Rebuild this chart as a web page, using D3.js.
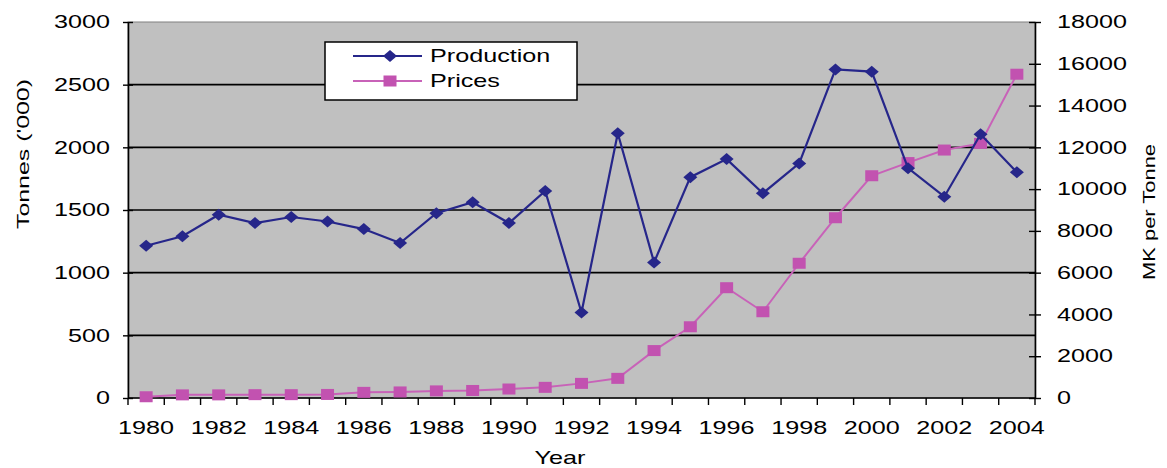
<!DOCTYPE html>
<html>
<head>
<meta charset="utf-8">
<script src="https://cdn.jsdelivr.net/npm/d3@7"></script>
<style>
  body { margin: 0; background: #fff; }
  svg text { font-family: Arial, "Liberation Sans", sans-serif; fill: #000; }
</style>
</head>
<body>
<div id="chart"></div>
<script>
const years = d3.range(1980, 2005);
const production = [1215, 1290, 1462, 1396, 1444, 1408, 1348, 1236, 1474, 1562, 1396, 1652,
  682, 2112, 1082, 1762, 1906, 1634, 1872, 2622, 2604, 1834, 1606, 2104, 1802];
const prices = [60, 150, 150, 160, 160, 170, 270, 290, 340, 360, 430, 510,
  700, 940, 2270, 3410, 5280, 4130, 6450, 8630, 10640, 11270, 11870, 12190, 15500];
const leftTicks = [0, 500, 1000, 1500, 2000, 2500, 3000];
const rightTicks = d3.range(0, 18001, 2000);
const xLabels = years.filter((y) => y % 2 === 0);

const width = 1167;
const height = 468;
const margin = { top: 22, right: 132, bottom: 70, left: 128 };
const stretch = 1.4; // the reference text is drawn wide

const svg = d3.select("#chart").append("svg")
  .attr("width", width)
  .attr("height", height);

const x = d3.scaleBand()
  .domain(years)
  .range([margin.left, width - margin.right]);

const yL = d3.scaleLinear().domain([0, 3000]).range([height - margin.bottom, margin.top]);
const yR = d3.scaleLinear().domain([0, 18000]).range([height - margin.bottom, margin.top]);

const x0 = margin.left;
const x1 = width - margin.right;
const yBottom = height - margin.bottom;

// plot area
svg.append("rect")
  .attr("x", x0).attr("y", margin.top)
  .attr("width", x1 - x0).attr("height", yBottom - margin.top)
  .attr("fill", "#c0c0c0")
  .attr("stroke", "#808080").attr("stroke-width", 1);

// gridlines
svg.append("g").selectAll("line")
  .data(leftTicks.filter((d) => d > 0 && d < 3000))
  .enter().append("line")
  .attr("x1", x0).attr("x2", x1)
  .attr("y1", (d) => yL(d)).attr("y2", (d) => yL(d))
  .attr("stroke", "#000").attr("stroke-width", 1.6);

// stretch text horizontally around its own x anchor
function widen(sel) {
  sel.each(function () {
    const ax = +this.getAttribute("x") || 0;
    d3.select(this).attr("transform",
      `translate(${ax},0) scale(${stretch},1) translate(${-ax},0)`);
  });
}

// left axis
const gL = svg.append("g").attr("transform", `translate(${x0},0)`)
  .call(d3.axisLeft(yL).tickValues(leftTicks).tickFormat(d3.format("d"))
    .tickSize(5).tickSizeOuter(0).tickPadding(13));
gL.select(".domain").attr("stroke-width", 1.6);
gL.selectAll(".tick line").attr("x2", 5).attr("x1", -5).attr("stroke-width", 1.4);
gL.selectAll("text").style("font-size", "18px").call(widen);

// right axis
const gR = svg.append("g").attr("transform", `translate(${x1},0)`)
  .call(d3.axisRight(yR).tickValues(rightTicks).tickFormat(d3.format("d"))
    .tickSize(6).tickSizeOuter(0).tickPadding(16));
gR.select(".domain").attr("stroke-width", 1.6);
gR.selectAll(".tick line").attr("x1", -6).attr("stroke-width", 1.4);
gR.selectAll("text").style("font-size", "18px").call(widen);

// x axis: ticks between categories
const gX = svg.append("g").attr("transform", `translate(0,${yBottom})`);
gX.append("line").attr("x1", x0).attr("x2", x1)
  .attr("stroke", "#000").attr("stroke-width", 1.6);
gX.selectAll(".xt")
  .data(years.concat([2005]))
  .enter().append("line")
  .attr("class", "xt")
  .attr("x1", (d) => (d === 2005 ? x1 : x(d)))
  .attr("x2", (d) => (d === 2005 ? x1 : x(d)))
  .attr("y1", 0).attr("y2", 7)
  .attr("stroke", "#000").attr("stroke-width", 1.4);
gX.selectAll(".xl")
  .data(xLabels)
  .enter().append("text")
  .attr("class", "xl")
  .attr("x", (d) => x(d) + x.bandwidth() / 2)
  .attr("y", 36)
  .attr("text-anchor", "middle")
  .style("font-size", "18px")
  .text((d) => d)
  .call(widen);

// axis titles
svg.append("text")
  .attr("x", 560).attr("y", yBottom + 66)
  .attr("text-anchor", "middle")
  .style("font-size", "18px")
  .text("Year")
  .call(widen);

svg.append("text")
  .attr("transform", `translate(29,154) rotate(-90)`)
  .attr("text-anchor", "middle")
  .style("font-size", "17px")
  .attr("textLength", 150).attr("lengthAdjust", "spacingAndGlyphs")
  .text("Tonnes ('000)");

svg.append("text")
  .attr("transform", `translate(1155,212) rotate(-90)`)
  .attr("text-anchor", "middle")
  .style("font-size", "17px")
  .attr("textLength", 136).attr("lengthAdjust", "spacingAndGlyphs")
  .text("MK per Tonne");

// series
const navy = "#26268a";
const pink = "#c252b0";
const cx = (i) => x(years[i]) + x.bandwidth() / 2;

svg.append("path")
  .datum(prices)
  .attr("fill", "none").attr("stroke", "#c862b8").attr("stroke-width", 2)
  .attr("d", d3.line().x((d, i) => cx(i)).y((d) => yR(d)));

svg.append("g").selectAll("rect")
  .data(prices)
  .enter().append("rect")
  .attr("x", (d, i) => cx(i) - 6.5).attr("y", (d) => yR(d) - 5.5)
  .attr("width", 13).attr("height", 11)
  .attr("fill", pink);

svg.append("path")
  .datum(production)
  .attr("fill", "none").attr("stroke", navy).attr("stroke-width", 2.2)
  .attr("d", d3.line().x((d, i) => cx(i)).y((d) => yL(d)));

const diamond = "M0,-6 L7,0 L0,6 L-7,0 Z";
svg.append("g").selectAll("path")
  .data(production)
  .enter().append("path")
  .attr("d", diamond)
  .attr("transform", (d, i) => `translate(${cx(i)},${yL(d)})`)
  .attr("fill", navy);

// legend
const lg = svg.append("g");
lg.append("rect")
  .attr("x", 325).attr("y", 42).attr("width", 252).attr("height", 58)
  .attr("fill", "#fff").attr("stroke", "#000").attr("stroke-width", 1.5);

const legendItems = ["Production", "Prices"];
legendItems.forEach((name, i) => {
  const ly = 56 + i * 25;
  const col = i === 0 ? navy : "#c862b8";
  lg.append("line").attr("x1", 353).attr("x2", 422).attr("y1", ly).attr("y2", ly)
    .attr("stroke", col).attr("stroke-width", 2);
  if (i === 0) {
    lg.append("path").attr("d", diamond).attr("transform", `translate(390,${ly})`).attr("fill", navy);
  } else {
    lg.append("rect").attr("x", 383.5).attr("y", ly - 5.5).attr("width", 13).attr("height", 11).attr("fill", pink);
  }
  lg.append("text").attr("x", 430).attr("y", ly + 6.5)
    .style("font-size", "18px")
    .text(name)
    .call(widen);
});
</script>
</body>
</html>
